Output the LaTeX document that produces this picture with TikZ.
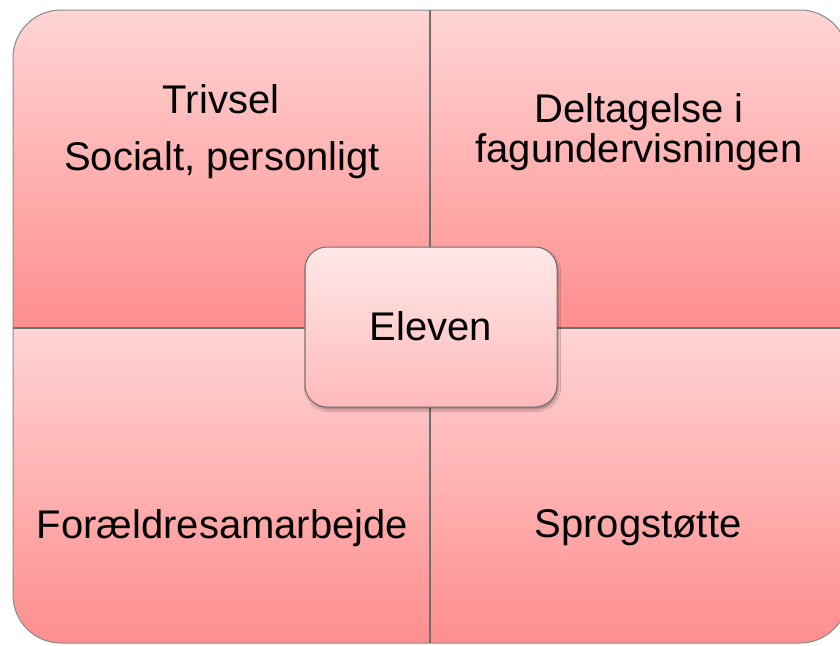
\documentclass[tikz,border=0pt]{standalone}
\usepackage{fontspec}
\setmainfont{Liberation Sans}
\usetikzlibrary{shadows.blur}
\definecolor{qtop}{HTML}{FFD4D4}
\definecolor{qbot}{HTML}{FF8E8E}
\definecolor{ctop}{HTML}{FFE8E8}
\definecolor{cbot}{HTML}{FFBABA}
\definecolor{edge}{HTML}{6E6E6E}
\tikzset{
  quad/.style={top color=qtop, bottom color=qbot, draw=none},
  lbl/.style={anchor=base, inner sep=0pt, font=\fontsize{40}{40}\selectfont, text=black},
  centerbox/.style={draw=edge, line width=1pt, rounded corners=22pt, top color=ctop, bottom color=cbot,
     minimum width=252pt, minimum height=160pt, inner sep=0pt,
     blur shadow={shadow xshift=1.5pt, shadow yshift=-2.5pt, shadow blur steps=6, shadow opacity=35}},
}
\begin{document}
\begin{tikzpicture}[x=1pt,y=-1pt]
\useasboundingbox (0,0) rectangle (840,645);
\begin{scope}
  \clip[rounded corners=48pt] (13,10) rectangle (848,643);
  \fill[quad] (13,10) rectangle (430,328);
  \fill[quad] (430,10) rectangle (848,328);
  \fill[quad] (13,328) rectangle (430,643);
  \fill[quad] (430,328) rectangle (848,643);
\end{scope}
\draw[edge!80, line width=1pt, rounded corners=48pt] (13,10) rectangle (848,643);
\draw[edge, line width=1.3pt] (430,10) -- (430,643);
\draw[edge, line width=1.3pt] (13,328) -- (848,328);
% labels
\node[lbl] (trivsel) at (221,113) {Trivsel};
\node[lbl] (social) at (222,170) {Socialt, personligt};
\node[lbl] (delta) at (639,122) {Deltagelse i};
\node[lbl] (fag) at (639,162) {fagundervisningen};
\node[lbl] (foraeld) at (222.5,538) {Forældresamarbejde};
\node[lbl] (sprog) at (638,537) {Sprogstøtte};
\node[centerbox] (eleven) at (431,327) {};
\node[lbl] (elevtxt) at (431,340) {Eleven};
\end{tikzpicture}
\end{document}
